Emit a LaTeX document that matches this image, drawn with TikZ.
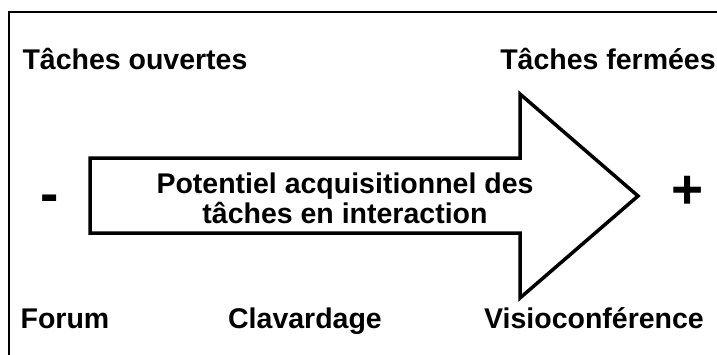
\documentclass[tikz,border=0pt]{standalone}
\usepackage{fontspec}
\setmainfont{Liberation Sans}
\begin{document}
\begin{tikzpicture}[x=1pt,y=-1pt,
  lbl/.style={inner sep=0pt, anchor=base, font=\bfseries\fontsize{28.5}{30}\selectfont},
  sign/.style={inner sep=0pt, anchor=base, font=\bfseries\fontsize{55}{60}\selectfont},
  arrowshape/.style={draw=black, fill=white, line width=3.5pt, line join=miter}]
\useasboundingbox (0,0) rectangle (717,354);
\fill[white] (0,0) rectangle (717,354);
% frame
\draw[line width=1.6pt] (9,360) -- (9,12) -- (725,12);
% big arrow
\coordinate (bl) at (90,158);
\coordinate (nt) at (520,158);
\coordinate (ht) at (520,94);
\coordinate (tip) at (638,196);
\coordinate (hb) at (520,298);
\coordinate (nb) at (520,233);
\coordinate (bb) at (90,233);
\draw[arrowshape] (bl) -- (nt) -- (ht) -- (tip) -- (hb) -- (nb) -- (bb) -- cycle;
% labels
\node[lbl] (ouv) at (135,69) {Tâches ouvertes};
\node[lbl] (fer) at (608,69) {Tâches fermées};
\node[lbl] (mid1) at (345,193) {Potentiel acquisitionnel des};
\node[lbl] (mid2) at (345,223) {tâches en interaction};
\node[lbl] (forum) at (65,328) {Forum};
\node[lbl] (clav) at (305,328) {Clavardage};
\node[lbl] (visio) at (594,328) {Visioconférence};
\node[sign] (minus) at (50,212) {-};
\node[sign] (plus) at (688,208) {+};
\end{tikzpicture}
\end{document}
